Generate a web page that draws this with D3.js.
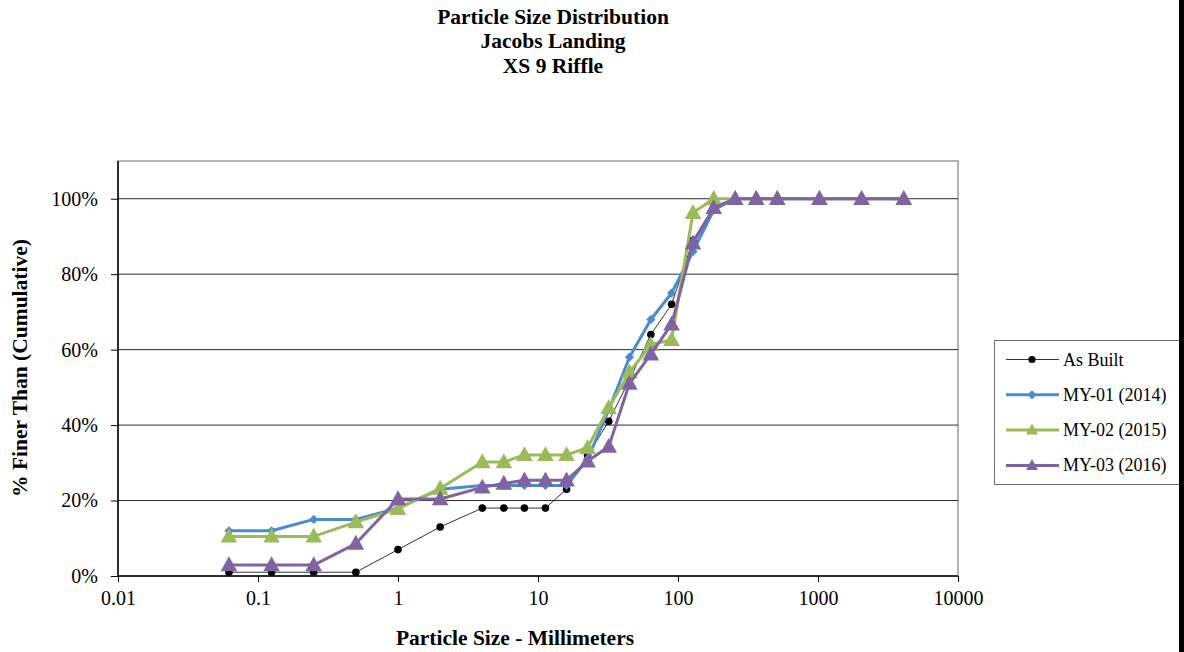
<!DOCTYPE html>
<html>
<head>
<meta charset="utf-8">
<script src="https://cdn.jsdelivr.net/npm/d3@7"></script>
<style>
  html, body { margin: 0; padding: 0; background: #fff; }
  svg { display: block; font-family: "Liberation Serif", "Times New Roman", serif; }
</style>
</head>
<body>
<svg id="chart" width="1184" height="652"></svg>
<script>
// ---- data ----
const titleLines = ["Particle Size Distribution", "Jacobs Landing", "XS 9 Riffle"];
const sizes = [0.062, 0.125, 0.25, 0.5, 1, 2, 4, 5.7, 8, 11.3, 16, 22.6, 32, 45, 64, 90, 128, 180, 256, 362, 512, 1024, 2048, 4096];
const asBuilt = [1, 1, 1, 1, 7, 13, 18, 18, 18, 18, 23, 32, 41, 52, 64, 72, 89, 98, 100, 100, 100, 100, 100, 100];
const my01 = [12, 12, 15, 15, 18, 23, 24, 24, 24, 24, 24, 31, 44, 58, 68, 75, 86, 97, 100, 100, 100, 100, 100, 100];
const my02 = [10.5, 10.5, 10.5, 14.3, 17.8, 23.2, 30.2, 30.2, 32.1, 32.1, 32.1, 34, 44.6, 54, 61.3, 62.6, 96.3, 100, 100, 100, 100, 100, 100, 100];
const my03 = [2.9, 2.9, 2.9, 8.6, 20.4, 20.4, 23.5, 24.5, 25.4, 25.4, 25.4, 30.4, 34.3, 51, 58.8, 66.7, 88.2, 97.6, 100, 100, 100, 100, 100, 100];
const seriesNames = ["As Built", "MY-01 (2014)", "MY-02 (2015)", "MY-03 (2016)"];
const xTickValues = [0.01, 0.1, 1, 10, 100, 1000, 10000];
const xTickLabels = ["0.01", "0.1", "1", "10", "100", "1000", "10000"];
const yTickValues = [0, 20, 40, 60, 80, 100];
const xTitle = "Particle Size - Millimeters";
const yTitle = "% Finer Than (Cumulative)";

// ---- styling ----
const styles = [
  { color: "#000000", width: 0.8, marker: "circle" },
  { color: "#4a8ad6", width: 3, marker: "diamond" },
  { color: "#9bbb59", width: 3, marker: "triangle" },
  { color: "#8064a2", width: 3, marker: "triangle" }
];
const seriesValues = [asBuilt, my01, my02, my03];

const svg = d3.select("#chart");
const L = 118, R = 958, T = 161, B = 576;

const x = d3.scaleLog().domain([0.01, 10000]).range([L, R]);
const y = d3.scaleLinear().domain([0, 110]).range([B, T]);

// title
svg.append("g").selectAll("text").data(titleLines).join("text")
  .attr("x", 553).attr("y", (d, i) => 23.5 + i * 24.8)
  .attr("text-anchor", "middle").attr("font-weight", "bold").attr("font-size", 21.5)
  .text(d => d);

// plot area border (top/right gray)
svg.append("rect").attr("x", L).attr("y", T).attr("width", R - L).attr("height", B - T)
  .attr("fill", "none").attr("stroke", "#868686").attr("stroke-width", 1.2);

// gridlines
svg.append("g").selectAll("line").data(yTickValues.filter(v => v > 0)).join("line")
  .attr("x1", L).attr("x2", R).attr("y1", d => y(d)).attr("y2", d => y(d))
  .attr("stroke", "#2a2a2a").attr("stroke-width", 1);

// axes
const yAxis = d3.axisLeft(y).tickValues(yTickValues).tickFormat(d => d + "%").tickSize(7).tickPadding(13);
const gy = svg.append("g").attr("transform", `translate(${L},0)`).call(yAxis);
const xAxis = d3.axisBottom(x).tickValues(xTickValues).tickFormat((d, i) => xTickLabels[i]).tickSize(6).tickPadding(9);
const gx = svg.append("g").attr("transform", `translate(0,${B})`).call(xAxis);
[gy, gx].forEach(g => {
  g.select(".domain").attr("stroke", "#000").attr("stroke-width", 1.5);
  g.selectAll(".tick line").attr("stroke", "#000").attr("stroke-width", 1);
  g.selectAll(".tick text").attr("font-family", "Liberation Serif").attr("font-size", 20).attr("fill", "#000");
});
gy.select(".domain").attr("d", `M0,${T}V${B}`);
gx.select(".domain").attr("d", `M${L},0H${R}`);

// axis titles
svg.append("text").attr("x", 515).attr("y", 645).attr("text-anchor", "middle")
  .attr("font-weight", "bold").attr("font-size", 21.5).text(xTitle);
svg.append("text").attr("transform", "translate(27,368) rotate(-90)").attr("text-anchor", "middle")
  .attr("font-weight", "bold").attr("font-size", 21.5).text(yTitle);

// marker path generator
function markerPath(type, s) {
  if (type === "circle") return d3.symbol(d3.symbolCircle, Math.PI * s * s)();
  if (type === "diamond") return `M0,${-s}L${s},0L0,${s}L${-s},0Z`;
  return `M0,${-s * 1.05}L${s},${s * 0.75}L${-s},${s * 0.75}Z`;
}
const markerSize = { circle: 3.8, diamond: 4.6, triangle: 8.3 };
const legendMarkerSize = { circle: 3.6, diamond: 4.6, triangle: 6 };

const line = d3.line().x(d => x(d[0])).y(d => y(d[1]));

seriesValues.forEach((vals, si) => {
  const st = styles[si];
  const pts = sizes.map((s, i) => [s, vals[i]]);
  const g = svg.append("g");
  g.append("path").datum(pts).attr("d", line).attr("fill", "none")
    .attr("stroke", st.color).attr("stroke-width", st.width).attr("stroke-linejoin", "round");
  g.selectAll("path.m").data(pts).join("path").attr("class", "m")
    .attr("transform", d => `translate(${x(d[0])},${y(d[1])})`)
    .attr("d", markerPath(st.marker, markerSize[st.marker]))
    .attr("fill", st.color);
});

// legend
const lg = svg.append("g");
lg.append("rect").attr("x", 994.5).attr("y", 340.5).attr("width", 200).attr("height", 144)
  .attr("fill", "#fff").attr("stroke", "#6e6e6e").attr("stroke-width", 1);
seriesNames.forEach((name, i) => {
  const st = styles[i];
  const cy = 359.5 + i * 35.3;
  lg.append("line").attr("x1", 1006).attr("x2", 1059).attr("y1", cy).attr("y2", cy)
    .attr("stroke", st.color).attr("stroke-width", st.width);
  lg.append("path").attr("transform", `translate(1032,${cy})`)
    .attr("d", markerPath(st.marker, legendMarkerSize[st.marker])).attr("fill", st.color);
  lg.append("text").attr("x", 1063).attr("y", cy + 6).attr("font-size", 18).text(name);
});

// right-edge dark bar
svg.append("rect").attr("x", 1179).attr("y", 0).attr("width", 5).attr("height", 652).attr("fill", "#000");
</script>
</body>
</html>
